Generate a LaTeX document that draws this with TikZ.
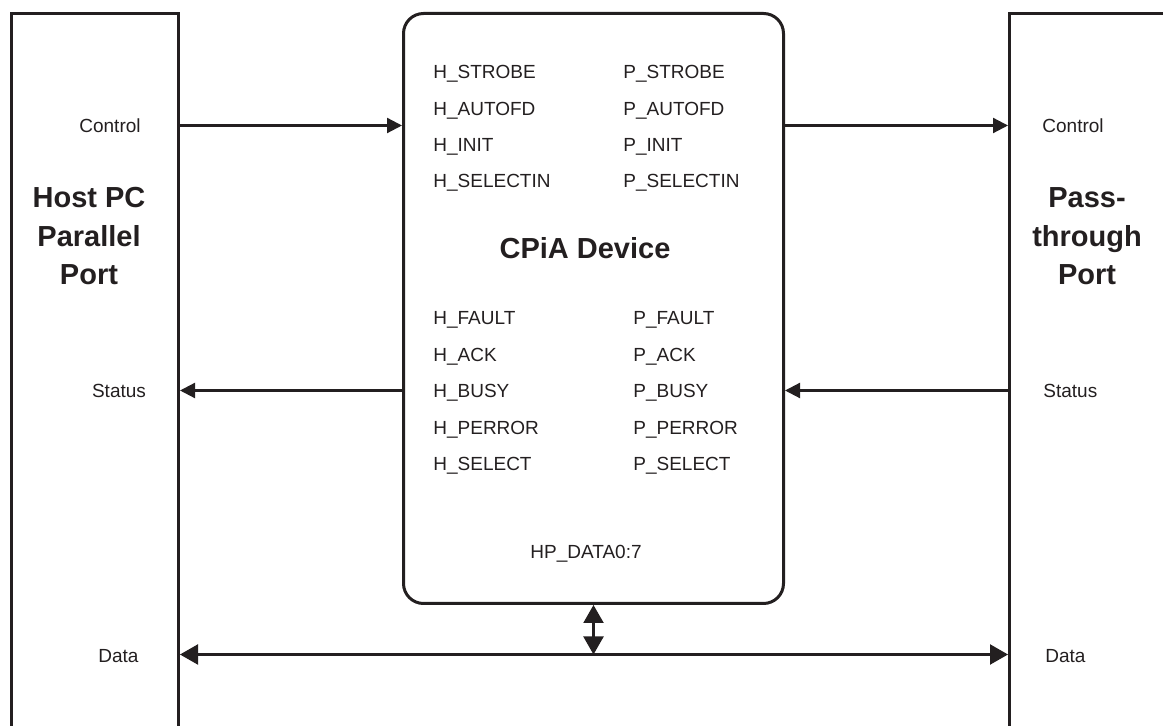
\documentclass[tikz,border=0pt]{standalone}
\usepackage{fontspec}
\setmainfont{Liberation Sans}
\usepackage{xcolor}
\usetikzlibrary{arrows.meta, positioning}

\definecolor{ink}{RGB}{35,31,32}

\tikzset{
    port/.style={draw=ink, line width=1.5pt, inner sep=0pt, anchor=north west},
    sig/.style={text=ink, inner sep=0pt, font=\fontsize{9.5}{11}\selectfont},
    title/.style={text=ink, inner sep=0pt, align=center, font=\fontsize{14.5}{19.3}\selectfont\bfseries},
    wire/.style={draw=ink, line width=1.1pt, -{Triangle[length=7.5pt, width=7.5pt]}},
    bus/.style={draw=ink, line width=1.1pt, {Triangle[length=9pt, width=10pt]}-{Triangle[length=9pt, width=10pt]}}
}

\begin{document}
\begin{tikzpicture}[x=0.5pt, y=-0.5pt]
    \clip (0,0) rectangle (1163,726);

    % the three blocks
    \node[port, minimum width=83.5pt, minimum height=380pt] (host) at (10,12) {};
    \node[port, minimum width=100pt, minimum height=380pt] (pass) at (1008,12) {};
    \node[port, minimum width=190pt, minimum height=295pt, rounded corners=10pt] (cpia) at (402,12) {};

    % block titles (base is the last line)
    \node[title, anchor=base] (hosttxt) at (89,285) {Host PC\\Parallel\\Port};
    \node[title, anchor=base] (passtxt) at (1087,285) {Pass-\\through\\Port};
    \node[title, anchor=base] (cpiatxt) at (585,259) {CPiA Device};

    % port labels
    \node[sig, anchor=base] (hctl) at (110,132.7) {Control};
    \node[sig, anchor=base] (hsts) at (119,397.7) {Status};
    \node[sig, anchor=base] (hdat) at (118.5,662.3) {Data};
    \node[sig, anchor=base west] (pctl) at (1042,132.7) {Control};
    \node[sig, anchor=base west] (psts) at (1043,397.7) {Status};
    \node[sig, anchor=base west] (pdat) at (1045,662.3) {Data};

    % signal names inside the device
    \foreach \s [count=\i] in {STROBE, AUTOFD, INIT, SELECTIN} {
        \node[sig, anchor=base west] (h\s) at (433,{79+36.3*(\i-1)}) {H\_\s};
        \node[sig, anchor=base west] (p\s) at (623,{79+36.3*(\i-1)}) {P\_\s};
    }
    \foreach \s [count=\i] in {FAULT, ACK, BUSY, PERROR, SELECT} {
        \node[sig, anchor=base west] (h\s) at (433,{325+36.5*(\i-1)}) {H\_\s};
        \node[sig, anchor=base west] (p\s) at (633,{325+36.5*(\i-1)}) {P\_\s};
    }
    \node[sig, anchor=base] (hpdata) at (586,559) {HP\_DATA0:7};

    % connectors
    \coordinate (yctl) at (0,125.5);
    \coordinate (ysts) at (0,390.5);
    \coordinate (ydat) at (0,654.5);
    \draw[wire] (yctl -| host.east) -- (yctl -| cpia.west);
    \draw[wire] (yctl -| cpia.east) -- (yctl -| pass.west);
    \draw[wire] (ysts -| cpia.west) -- (ysts -| host.east);
    \draw[wire] (ysts -| pass.west) -- (ysts -| cpia.east);
    \draw[bus] (ydat -| host.east) -- (ydat -| pass.west);
    \draw[bus] (cpia.south) -- (ydat -| cpia.south);
\end{tikzpicture}
\end{document}
